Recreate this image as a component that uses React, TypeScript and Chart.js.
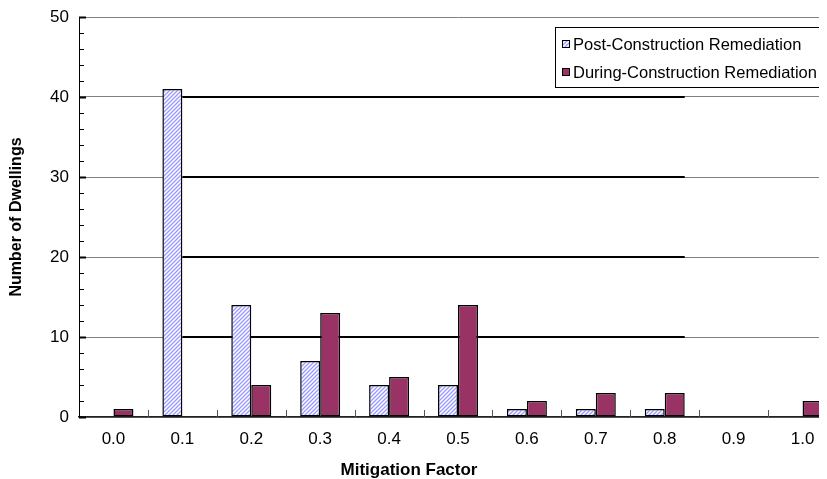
import React, { useEffect, useRef } from "react";
import { Chart, registerables } from "chart.js";

Chart.register(...registerables);

const categories = ["0.0", "0.1", "0.2", "0.3", "0.4", "0.5", "0.6", "0.7", "0.8", "0.9", "1.0"];
const postConstruction = [0, 41, 14, 7, 4, 4, 1, 1, 1, 0, 0];
const duringConstruction = [1, 0, 4, 13, 5, 14, 2, 3, 3, 0, 2];
const seriesNames = ["Post-Construction Remediation", "During-Construction Remediation"];
const yTicksMajor = [0, 10, 20, 30, 40, 50];
const xTitle = "Mitigation Factor";
const yTitle = "Number of Dwellings";

const FONT = "'Liberation Sans', Arial, sans-serif";
const DURING_COLOR = "#993366";
const HATCH_COLOR = "#9999ff";

function makeHatch(): CanvasPattern | string {
  const c = document.createElement("canvas");
  c.width = 4;
  c.height = 4;
  const g = c.getContext("2d");
  if (!g) return HATCH_COLOR;
  g.fillStyle = "#ffffff";
  g.fillRect(0, 0, 4, 4);
  g.strokeStyle = HATCH_COLOR;
  g.lineWidth = 1.3;
  g.beginPath();
  g.moveTo(-1, 5);
  g.lineTo(5, -1);
  g.moveTo(-1, 1);
  g.lineTo(1, -1);
  g.moveTo(3, 5);
  g.lineTo(5, 3);
  g.stroke();
  const p = g.createPattern(c, "repeat");
  return p || HATCH_COLOR;
}

export default function App() {
  const ref = useRef<HTMLCanvasElement | null>(null);

  useEffect(() => {
    const canvas = ref.current;
    if (!canvas) return;
    const hatch = makeHatch();

    const decorPlugin = {
      id: "decor",
      beforeDatasetsDraw(chart: any) {
        const { ctx, scales } = chart;
        const y = scales.y;
        const m0 = chart.getDatasetMeta(0).data[1];
        const m1 = chart.getDatasetMeta(1).data[8];
        if (!m0 || !m1) return;
        const x1 = m0.x + m0.width / 2;
        const x2 = m1.x + m1.width / 2;
        ctx.save();
        ctx.strokeStyle = "#000";
        ctx.lineWidth = 2;
        for (const v of yTicksMajor) {
          if (v === 0 || v === 50) continue;
          const py = Math.round(y.getPixelForValue(v));
          ctx.beginPath();
          ctx.moveTo(x1, py);
          ctx.lineTo(x2, py);
          ctx.stroke();
        }
        ctx.restore();
      },
      afterDraw(chart: any) {
        const { ctx, chartArea, scales } = chart;
        const x = scales.x;
        const y = scales.y;
        ctx.save();
        // y ticks inside
        ctx.strokeStyle = "#000";
        for (let v = 0; v <= 50; v += 2) {
          const py = Math.round(y.getPixelForValue(v)) + 0.5;
          const major = v % 10 === 0;
          ctx.lineWidth = major ? 2 : 1;
          ctx.beginPath();
          ctx.moveTo(chartArea.left, py);
          ctx.lineTo(chartArea.left + (major ? 7 : 5), py);
          ctx.stroke();
        }
        // x ticks between categories, inside
        ctx.strokeStyle = "#555";
        ctx.lineWidth = 1;
        for (let i = 0; i < categories.length - 1; i++) {
          const px = Math.round((x.getPixelForValue(i) + x.getPixelForValue(i + 1)) / 2) + 0.5;
          ctx.beginPath();
          ctx.moveTo(px, chartArea.bottom);
          ctx.lineTo(px, chartArea.bottom - 7);
          ctx.stroke();
        }
        // x title, centered on the visible chart
        ctx.fillStyle = "#000";
        ctx.font = `bold 17px ${FONT}`;
        ctx.textAlign = "center";
        ctx.textBaseline = "middle";
        ctx.fillText(xTitle, 401, 462);
        // legend
        const lx = 547;
        const ly = 19;
        const lh = 60;
        const lw = chart.width - lx + 10;
        ctx.fillStyle = "#fff";
        ctx.fillRect(lx, ly, lw, lh);
        ctx.strokeStyle = "#000";
        ctx.lineWidth = 1;
        ctx.strokeRect(lx + 0.5, ly + 0.5, lw, lh);
        const rows = [36, 64];
        const fills = [hatch, DURING_COLOR];
        ctx.font = `16.5px ${FONT}`;
        ctx.textBaseline = "middle";
        ctx.textAlign = "left";
        rows.forEach((ry, i) => {
          ctx.fillStyle = fills[i] as any;
          ctx.fillRect(554, ry - 4, 8, 8);
          ctx.strokeStyle = "#000";
          ctx.strokeRect(554.5, ry - 3.5, 7, 7);
          ctx.fillStyle = "#000";
          ctx.fillText(seriesNames[i], 565, ry + 1);
        });
        ctx.restore();
      },
    };

    const chart = new Chart(canvas, {
      type: "bar",
      data: {
        labels: categories,
        datasets: [
          {
            label: seriesNames[0],
            data: postConstruction,
            backgroundColor: hatch as any,
            borderColor: "#000",
            borderWidth: 1.5,
            borderSkipped: false,
          },
          {
            label: seriesNames[1],
            data: duringConstruction,
            backgroundColor: DURING_COLOR,
            borderColor: "#000",
            borderWidth: 1.5,
            borderSkipped: false,
          },
        ],
      },
      options: {
        responsive: false,
        animation: false,
        layout: { padding: { top: 9, right: 11, left: 0, bottom: 0 } },
        plugins: {
          legend: { display: false },
          tooltip: { enabled: false },
        },
        datasets: {
          bar: { categoryPercentage: 0.58, barPercentage: 1.0 },
        },
        scales: {
          x: {
            type: "category",
            offset: true,
            grid: { display: false, drawTicks: false },
            border: { display: true, color: "#222", width: 1.5 },
            ticks: {
              color: "#000",
              font: { family: FONT, size: 17 },
              padding: 12,
              maxRotation: 0,
            },
            title: { display: false, text: xTitle },
            afterFit(scale: any) {
              scale.height = 62;
              scale.paddingLeft = 0;
              scale.paddingRight = 0;
            },
          },
          y: {
            min: 0,
            max: 50,
            grid: {
              drawTicks: false,
              color: (c: any) => (c.tick && c.tick.value % 10 === 0 ? "#808080" : "transparent"),
              lineWidth: 1,
            },
            border: { display: true, color: "#000", width: 1 },
            ticks: {
              stepSize: 2,
              autoSkip: false,
              color: "#000",
              font: { family: FONT, size: 17 },
              padding: 10,
              callback: (v: any) => (yTicksMajor.includes(Number(v)) ? String(v) : ""),
            },
            title: {
              display: true,
              text: yTitle,
              color: "#000",
              font: { family: FONT, size: 16, weight: "bold", lineHeight: 1.1 },
              padding: { top: 0, bottom: 0 },
            },
            afterFit(scale: any) {
              scale.width = 71;
              scale.paddingTop = 0;
              scale.paddingBottom = 0;
            },
          },
        },
      },
      plugins: [decorPlugin],
    });

    return () => chart.destroy();
  }, []);

  return (
    <div style={{ width: 819, height: 471, overflow: "hidden", position: "relative" }}>
      <canvas ref={ref} width={840} height={471} style={{ display: "block" }} />
    </div>
  );
}
